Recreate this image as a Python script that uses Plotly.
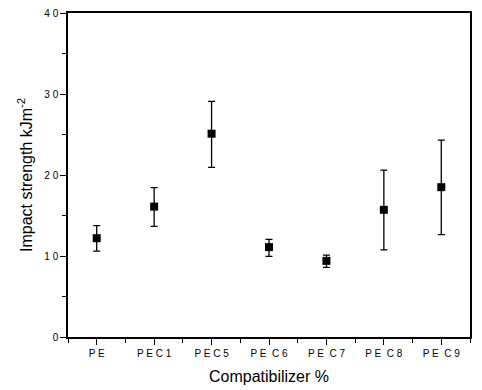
import plotly.graph_objects as go

categories = ["P E", "P E C 1", "P E C 5", "P E\u00a0 C 6", "P E\u00a0 C 7", "P E\u00a0 C 8", "P E\u00a0 C 9"]
impact = [12.2, 16.1, 25.1, 11.1, 9.4, 15.7, 18.5]
err_plus = [1.55, 2.35, 4.0, 0.95, 0.7, 4.9, 5.8]
err_minus = [1.6, 2.45, 4.15, 1.15, 0.8, 4.95, 5.85]

x_pos = list(range(len(categories)))

fig = go.Figure()
fig.add_trace(go.Scatter(
    x=x_pos, y=impact, mode="markers",
    marker=dict(symbol="square", size=8, color="black"),
    error_y=dict(type="data", symmetric=False, array=err_plus, arrayminus=err_minus,
                 color="black", thickness=1.3, width=3.5),
    showlegend=False,
))

fig.update_layout(
    width=482, height=390,
    margin=dict(l=68, r=12, t=13, b=53),
    paper_bgcolor="white", plot_bgcolor="white",
    font=dict(family="Arial, Liberation Sans, sans-serif", color="black"),
    xaxis=dict(
        range=[-0.5, 6.5], tickmode="array", tickvals=x_pos, ticktext=categories,
        ticks="outside", ticklen=6, tickwidth=1, tickcolor="black",
        minor=dict(tickmode="array", tickvals=[i + 0.5 for i in range(-1, 7)], ticks="outside",
                   ticklen=4, tickcolor="black", tickwidth=1),
        showline=True, linecolor="black", linewidth=1.5, mirror=True,
        showgrid=False, zeroline=False, automargin=False,
        tickfont=dict(size=10),
        title=dict(text="Compatibilizer %", font=dict(size=16), standoff=13),
    ),
    yaxis=dict(
        range=[0, 40], tickvals=[0, 10, 20, 30, 40],
        ticktext=["0", "1 0", "2 0", "3 0", "4 0"],
        ticks="outside", ticklen=6, tickwidth=1, tickcolor="black",
        minor=dict(tickvals=[5, 15, 25, 35], ticks="outside", ticklen=4, tickcolor="black", tickwidth=1),
        showline=True, linecolor="black", linewidth=1.5, mirror=True,
        showgrid=False, zeroline=False, automargin=False,
        tickfont=dict(size=10),
        title=dict(text="Impact strength kJm<sup>-2</sup>", font=dict(size=16), standoff=8),
    ),
)

fig.write_html("out.html", config={"displayModeBar": False},
               post_script="document.body.style.margin='0';")
